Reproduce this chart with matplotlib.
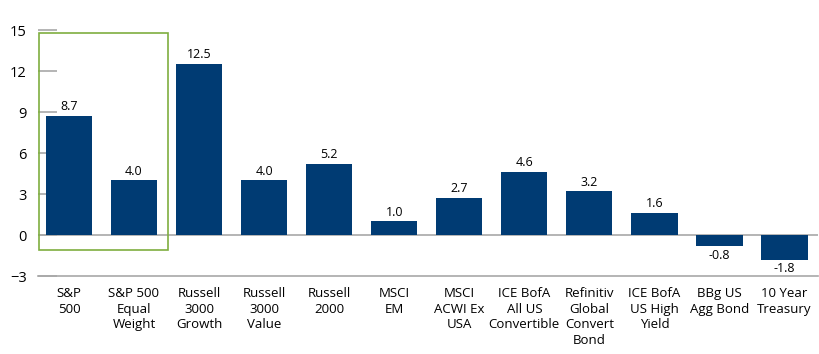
import matplotlib.pyplot as plt
from matplotlib.patches import Rectangle

plt.rcParams['font.family'] = ['Open Sans', 'DejaVu Sans']

categories = ['S&P\n500', 'S&P 500\nEqual\nWeight', 'Russell\n3000\nGrowth', 'Russell\n3000\nValue',
              'Russell\n2000', 'MSCI\nEM', 'MSCI\nACWI Ex\nUSA', 'ICE BofA\nAll US\nConvertible',
              'Refinitiv\nGlobal\nConvert\nBond', 'ICE BofA\nUS High\nYield', 'BBg US\nAgg Bond',
              '10 Year\nTreasury']
values = [8.7, 4.0, 12.5, 4.0, 5.2, 1.0, 2.7, 4.6, 3.2, 1.6, -0.8, -1.8]
yticks = [-3, 0, 3, 6, 9, 12, 15]

navy = '#003b73'
grey = '#a8a8a8'

fig = plt.figure(figsize=(8.2, 3.54), dpi=100)
ax = fig.add_axes([0.046, 0.22, 0.952, 0.695])

x = range(len(values))
ax.bar(x, values, width=0.71, color=navy, zorder=3)

for i, v in enumerate(values):
    if v >= 0:
        ax.annotate(f'{v:.1f}', (i, v), xytext=(0, 2), textcoords='offset points',
                    ha='center', va='bottom', fontsize=9, zorder=4)
    else:
        ax.annotate(f'{v:.1f}', (i, v), xytext=(0, -2), textcoords='offset points',
                    ha='center', va='top', fontsize=9, zorder=4)

# zero line
ax.axhline(0, color=grey, lw=1.2, zorder=2)

# green box around S&P bars
ax.add_patch(Rectangle((-0.46, -1.1), 1.98, 15.88, fill=False, edgecolor='#7fae3f',
                       lw=1.2, zorder=5, clip_on=False))

ax.set_xlim(-0.48, len(values) - 0.48)
ax.set_ylim(-3, 15)
ax.set_yticks(yticks)
ax.set_xticks(list(x))
ax.set_xticklabels(categories, fontsize=9.5, linespacing=1.25)

for s in ['top', 'right', 'left']:
    ax.spines[s].set_visible(False)
ax.spines['bottom'].set_color(grey)
ax.spines['bottom'].set_linewidth(1.2)

ax.tick_params(axis='x', length=0, pad=8)
ax.tick_params(axis='y', direction='in', length=14, color=grey, width=1.2, pad=8, labelsize=10.5)
# only the upper ticks show as short marks
for t in ax.yaxis.get_major_ticks():
    if t.get_loc() in (3, 6):
        t.tick1line.set_visible(False)

fig.savefig('out.png', dpi=100)
